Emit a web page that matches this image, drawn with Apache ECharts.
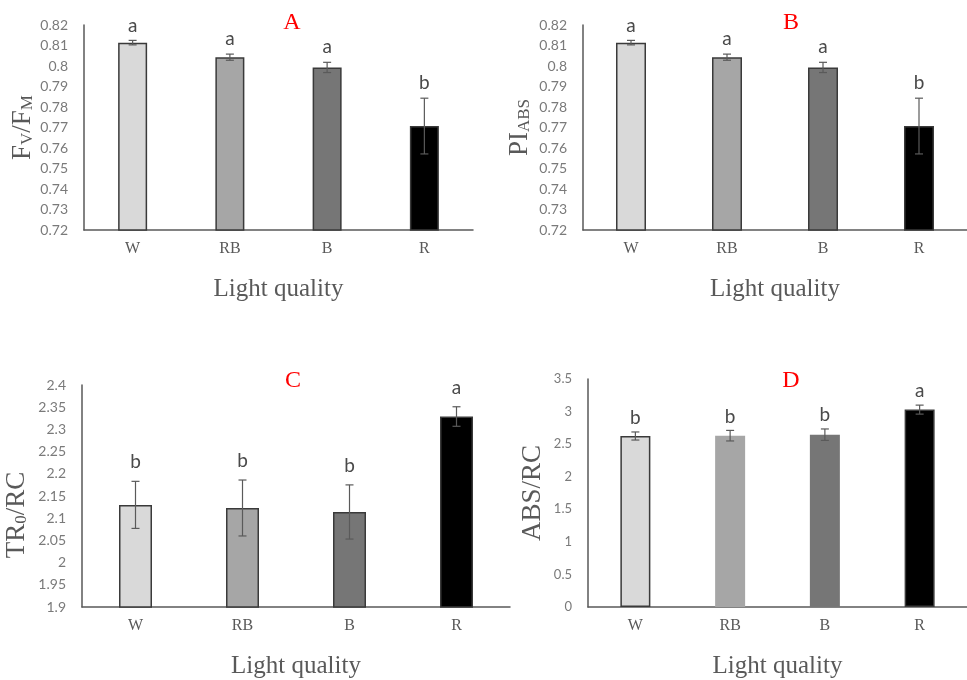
<!DOCTYPE html>
<html>
<head>
<meta charset="utf-8">
<script src="https://cdn.jsdelivr.net/npm/echarts@6/dist/echarts.min.js"></script>
<style>
  html, body { margin: 0; padding: 0; background: #fff; }
  #chart { width: 967px; height: 680px; }
</style>
</head>
<body>
<div id="chart"></div>
<script>
// data
const categories = ['W', 'RB', 'B', 'R'];
const barColors = ['#d9d9d9', '#a6a6a6', '#767676', '#000000'];

const fvfm = [0.8114, 0.8043, 0.7993, 0.7707];
const fvfmErr = [0.0011, 0.0015, 0.0025, 0.0136];
const fvfmLetters = ['a', 'a', 'a', 'b'];

const piAbs = [0.8114, 0.8043, 0.7993, 0.7707];
const piAbsErr = [0.0011, 0.0015, 0.0025, 0.0136];
const piAbsLetters = ['a', 'a', 'a', 'b'];

const tr0rc = [2.130, 2.123, 2.114, 2.329];
const tr0rcErr = [0.053, 0.063, 0.061, 0.022];
const tr0rcLetters = ['b', 'b', 'b', 'a'];

const absrc = [2.625, 2.630, 2.645, 3.030];
const absrcErr = [0.062, 0.081, 0.088, 0.069];
const absrcLetters = ['b', 'b', 'b', 'a'];

const serif = 'Liberation Serif';
const sans = 'Lato';
const axisColor = '#595959';

const chart = echarts.init(document.getElementById('chart'));

const grids = [
  { left: 84, top: 25, width: 389, height: 205 },
  { left: 583, top: 25, width: 388, height: 205 },
  { left: 82, top: 385, width: 428, height: 232 },
  { left: 588, top: 379, width: 392, height: 238 }
];

function xAxisFor(i) {
  return {
    type: 'category',
    gridIndex: i,
    data: categories,
    axisLine: { lineStyle: { color: axisColor, width: 1.5 } },
    axisTick: { show: false },
    axisLabel: { fontFamily: serif, fontSize: 16, color: axisColor, margin: 11 },
    name: 'Light quality',
    nameLocation: 'middle',
    nameGap: 47,
    nameTextStyle: { fontFamily: serif, fontSize: 25, color: axisColor }
  };
}

function yAxisFor(i, min, max, interval, name, gap, labelSize, shift) {
  return {
    type: 'value',
    gridIndex: i,
    min: min,
    max: max,
    interval: interval,
    splitLine: { show: false },
    axisTick: { show: false },
    axisLine: { show: true, lineStyle: { color: axisColor, width: 1.5 } },
    axisLabel: { fontFamily: sans, fontSize: labelSize, color: '#7a7a7a', margin: 16 },
    name: name,
    nameLocation: 'middle',
    nameGap: gap,
    nameTextStyle: {
      color: axisColor,
      padding: [0, shift, 0, 0],
      rich: {
        n: { fontFamily: serif, fontSize: 27, lineHeight: 27, verticalAlign: 'top', color: axisColor },
        s: { fontFamily: serif, fontSize: 17, lineHeight: 17, verticalAlign: 'bottom', padding: [12, 0, 0, 0], color: axisColor }
      }
    }
  };
}

function barSeries(i, values, barWidth, noBorder) {
  return {
    type: 'bar',
    xAxisIndex: i,
    yAxisIndex: i,
    barWidth: barWidth,
    data: values.map(function (v, k) {
      const hide = noBorder.indexOf(k) >= 0;
      return {
        value: v,
        itemStyle: {
          color: barColors[k],
          borderColor: hide ? barColors[k] : '#3a3a3a',
          borderWidth: hide ? 0 : 1.5
        }
      };
    })
  };
}

function errorSeries(i, values, errs, letters, gap) {
  return {
    type: 'custom',
    xAxisIndex: i,
    yAxisIndex: i,
    z: 10,
    data: values.map(function (v, k) { return [k, v, errs[k]]; }),
    renderItem: function (params, api) {
      const x = api.value(0), v = api.value(1), e = api.value(2);
      const hi = api.coord([x, v + e]);
      const lo = api.coord([x, v - e]);
      const cap = 4;
      const style = { stroke: '#5a5a5a', lineWidth: 1.2 };
      return {
        type: 'group',
        children: [
          { type: 'line', shape: { x1: hi[0], y1: hi[1], x2: lo[0], y2: lo[1] }, style: style },
          { type: 'line', shape: { x1: hi[0] - cap, y1: hi[1], x2: hi[0] + cap, y2: hi[1] }, style: style },
          { type: 'line', shape: { x1: lo[0] - cap, y1: lo[1], x2: lo[0] + cap, y2: lo[1] }, style: style },
          {
            type: 'text',
            x: hi[0],
            y: hi[1] - gap,
            style: {
              text: letters[params.dataIndex],
              fill: '#4a4a4a',
              font: '19px ' + sans,
              align: 'center',
              verticalAlign: 'middle'
            }
          }
        ]
      };
    }
  };
}

const panelTitle = function (text, left, top) {
  return {
    text: text, left: left, top: top, textAlign: 'center',
    textStyle: { fontFamily: serif, fontSize: 24, fontWeight: 'normal', color: '#ff0000' }
  };
};

const option = {
  backgroundColor: '#ffffff',
  animation: false,
  title: [
    panelTitle('A', 287, 6),
    panelTitle('B', 786, 6),
    panelTitle('C', 288, 364),
    panelTitle('D', 786, 364)
  ],
  grid: grids,
  xAxis: [xAxisFor(0), xAxisFor(1), xAxisFor(2), xAxisFor(3)],
  yAxis: [
    yAxisFor(0, 0.72, 0.82, 0.01, '{n|F}{s|V}{n|/F}{s|M}', 47, 14, 0),
    yAxisFor(1, 0.72, 0.82, 0.01, '{n|PI}{s|ABS}', 50, 14, 0),
    yAxisFor(2, 1.9, 2.4, 0.05, '{n|TR}{s|0}{n|/RC}', 52, 14, 38),
    yAxisFor(3, 0, 3.5, 0.5, '{n|ABS/RC}', 42, 13, 0)
  ],
  series: [
    barSeries(0, fvfm, 29, []),
    errorSeries(0, fvfm, fvfmErr, fvfmLetters, 15),
    barSeries(1, piAbs, 30, []),
    errorSeries(1, piAbs, piAbsErr, piAbsLetters, 15),
    barSeries(2, tr0rc, 33, []),
    errorSeries(2, tr0rc, tr0rcErr, tr0rcLetters, 19),
    barSeries(3, absrc, 30, [1, 2]),
    errorSeries(3, absrc, absrcErr, absrcLetters, 14)
  ]
};

chart.setOption(option);
window.addEventListener('resize', function () { chart.resize(); });
</script>
</body>
</html>
